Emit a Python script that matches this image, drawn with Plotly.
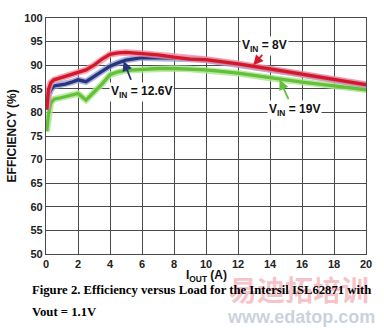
import plotly.graph_objects as go

iout = [0.05, 0.15, 0.3, 0.5, 0.8, 1.2, 1.6, 2.0, 2.5, 3.0, 3.5, 4.0, 4.5, 5.0, 6.0, 7.0, 8.0, 9.0, 10, 12, 14, 16, 18, 20]
eff_8v = [80.6, 84.8, 86.3, 86.9, 87.2, 87.6, 88.0, 88.4, 89.0, 90.0, 91.3, 92.3, 92.6, 92.7, 92.5, 92.2, 91.7, 91.3, 91.2, 90.3, 89.2, 88.1, 87.1, 85.9]
eff_12v6 = [80.6, 83.5, 84.8, 85.6, 85.8, 86.0, 86.4, 86.9, 86.5, 87.6, 88.8, 89.8, 90.5, 91.1, 91.6, 91.6, 91.5, 91.3, 91.1, 90.2, 89.1, 88.0, 87.0, 85.8]
eff_19v = [76.0, 79.5, 82.0, 82.8, 83.0, 83.3, 83.6, 84.0, 82.6, 84.2, 86.0, 88.0, 88.6, 88.9, 89.1, 89.3, 89.3, 89.2, 89.0, 88.3, 87.3, 86.4, 85.6, 84.8]
x_ticks = [0, 2, 4, 6, 8, 10, 12, 14, 16, 18, 20]
y_ticks = [50, 55, 60, 65, 70, 75, 80, 85, 90, 95, 100]

series = [
    (eff_19v, "#63bf3c", "rgba(170,230,140,0.8)"),
    (eff_12v6, "#27357f", "rgba(140,150,210,0.7)"),
    (eff_8v, "#d4182c", "rgba(240,140,160,0.8)"),
]

fig = go.Figure()
for ys, col, halo in series:
    fig.add_trace(go.Scatter(x=iout, y=ys, mode="lines",
                             line=dict(color=halo, width=6.5), hoverinfo="skip"))
    fig.add_trace(go.Scatter(x=iout, y=ys, mode="lines",
                             line=dict(color=col, width=3.3)))

tick_font = dict(family="Liberation Sans, Arial", size=11, color="#222", weight="bold")
axis_common = dict(showgrid=True, gridcolor="#4a4a4a", gridwidth=1.2, showline=True,
                   linecolor="#4a4a4a", linewidth=1.2, mirror=True, zeroline=False,
                   ticks="", tickfont=tick_font, fixedrange=True)
fig.update_xaxes(range=[0, 20], tickvals=x_ticks, **axis_common)
fig.update_yaxes(range=[50, 100], tickvals=y_ticks, **axis_common)

lab_font = dict(family="Liberation Sans, Arial", size=12, color="#111", weight="bold")
ann = []
# watermark
ann.append(dict(text="易迪拓培训", xref="paper", yref="paper", x=0.792, y=-0.149,
                xanchor="center", yanchor="middle", showarrow=False,
                font=dict(family="Noto Sans CJK SC", size=28, color="rgba(235,120,130,0.45)", weight="bold")))
ann.append(dict(text="www.edatop.com", xref="paper", yref="paper", x=0.798, y=-0.266,
                xanchor="center", yanchor="middle", showarrow=False,
                font=dict(family="Liberation Sans, Arial", size=18, color="rgba(150,165,190,0.5)", weight="bold")))
# curve labels
ann.append(dict(text="V<sub>IN</sub> = 12.6V", x=5.97, y=84.3, showarrow=False, font=lab_font, bgcolor="white"))
ann.append(dict(text="V<sub>IN</sub> = 8V", x=13.63, y=94.0, showarrow=False, font=lab_font, bgcolor="white"))
ann.append(dict(text="V<sub>IN</sub> = 19V", x=15.5, y=80.5, showarrow=False, font=lab_font, bgcolor="white"))
# arrows
for hx, hy, tx, ty, col in [(4.85, 90.9, 5.35, 86.6, "#27357f"),
                            (12.95, 90.0, 13.6, 92.5, "#d4182c"),
                            (14.6, 86.9, 15.2, 82.5, "#63bf3c")]:
    ann.append(dict(text="", x=hx, y=hy, ax=tx, ay=ty, axref="x", ayref="y",
                    showarrow=True, arrowhead=2, arrowsize=1.1, arrowwidth=1.8, arrowcolor=col))
# axis titles
ann.append(dict(text="EFFICIENCY (%)", xref="paper", yref="paper", x=-0.105, y=0.5,
                xanchor="center", yanchor="middle",
                textangle=-90, showarrow=False, font=lab_font))
ann.append(dict(text="I<sub>OUT</sub> (A)", xref="paper", yref="paper", x=0.5, y=-0.095,
                xanchor="center", yanchor="middle", showarrow=False, font=lab_font))
# caption
cap_font = dict(family="Liberation Serif, Times New Roman", size=12.7, color="#000", weight="bold")
ann.append(dict(text="Figure 2. Efficiency versus Load for the Intersil ISL62871 with",
                xref="paper", yref="paper", x=-0.049, y=-0.1535, xanchor="left", yanchor="middle",
                showarrow=False, font=cap_font))
ann.append(dict(text="Vout = 1.1V", xref="paper", yref="paper", x=-0.049, y=-0.245,
                xanchor="left", yanchor="middle", showarrow=False, font=cap_font))

fig.update_layout(width=384, height=328, margin=dict(l=46, r=13, t=13, b=74),
                  paper_bgcolor="white", plot_bgcolor="white", showlegend=False,
                  annotations=ann)
fig.write_html("out.html", config={"displayModeBar": False})
